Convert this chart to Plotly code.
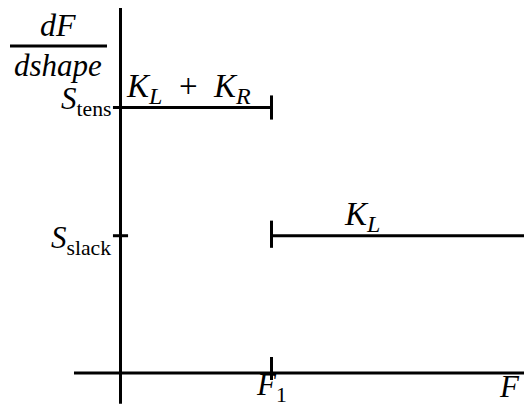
import plotly.graph_objects as go

# Piecewise derivative dF/dshape versus F
F1 = 1.0            # break point on the F axis
F_END = 2.672       # right end of the drawn F range
S_TENS = 1.934      # level while tensioned (K_L + K_R)
S_SLACK = 1.0       # level while slack (K_L)

# axis extents
X_MIN, X_MAX = -0.798, 2.672
Y_MIN, Y_MAX = -0.262, 2.717
AXIS_X_START = -0.308
AXIS_Y_START, AXIS_Y_END = -0.224, 2.658

TICK_H = 0.088      # half-height of vertical ticks
TICK_W = 0.05       # length of horizontal ticks

LINE = dict(color="black", width=3)
FONT = "Liberation Serif, Times New Roman, serif"

fig = go.Figure()

def seg(xs, ys):
    fig.add_trace(go.Scatter(x=xs, y=ys, mode="lines", line=LINE,
                             hoverinfo="skip", showlegend=False))

# coordinate axes
seg([AXIS_X_START, F_END], [0, 0])
seg([0, 0], [AXIS_Y_START, AXIS_Y_END])

# tick marks
seg([F1, F1], [-0.051, 0.117])
seg([-TICK_W, 0], [S_TENS, S_TENS])
seg([-TICK_W, TICK_W], [S_SLACK, S_SLACK])

# tensioned branch
seg([0, F1], [S_TENS, S_TENS])
seg([F1, F1], [S_TENS - TICK_H, S_TENS + TICK_H])

# slack branch
seg([F1, F_END], [S_SLACK, S_SLACK])
seg([F1, F1], [S_SLACK - TICK_H, S_SLACK + 0.11])

def label(text, x, y, xanchor="center", yanchor="middle", size=31, xref="x", yref="y"):
    fig.add_annotation(text=text, x=x, y=y, xref=xref, yref=yref,
                       xanchor=xanchor, yanchor=yanchor, showarrow=False,
                       font=dict(family=FONT, size=size, color="black"))

SUB = "<sub><span style='font-size:24px'>{}</span></sub>"

# y-axis title as a fraction
label("<i>dF</i>", 58 / 524, 1 - 25 / 409, xref="paper", yref="paper", size=32)
label("<i>dshape</i>", 58 / 524, 1 - 66 / 409, xref="paper", yref="paper", size=31)
fig.add_shape(type="line", xref="paper", yref="paper",
              x0=10 / 524, x1=107 / 524, y0=1 - 46 / 409, y1=1 - 46 / 409,
              line=dict(color="black", width=3))

# level labels
label("<i>S</i><sub>tens</sub>", -0.052, S_TENS + 0.045, xanchor="right")
label("<i>S</i><sub>slack</sub>", -0.052, S_SLACK - 0.03, xanchor="right")
label("<i>K</i>" + SUB.format("<i>L</i>") + "&nbsp;&nbsp;+&nbsp;&nbsp;<i>K</i>" + SUB.format("<i>R</i>"),
      0.02, S_TENS + 0.14, xanchor="left", size=33)
label("<i>K</i>" + SUB.format("<i>L</i>"), 1.6, S_SLACK + 0.14, size=33)

# F-axis labels
label("<i>F</i><sub>1</sub>", F1, -0.105)
label("<i>F</i>", F_END - 0.01, -0.1, xanchor="right")

fig.update_xaxes(range=[X_MIN, X_MAX], visible=False)
fig.update_yaxes(range=[Y_MIN, Y_MAX], visible=False)
fig.update_layout(width=524, height=409, margin=dict(l=0, r=0, t=0, b=0),
                  plot_bgcolor="white", paper_bgcolor="white")

fig.write_html("out.html")
